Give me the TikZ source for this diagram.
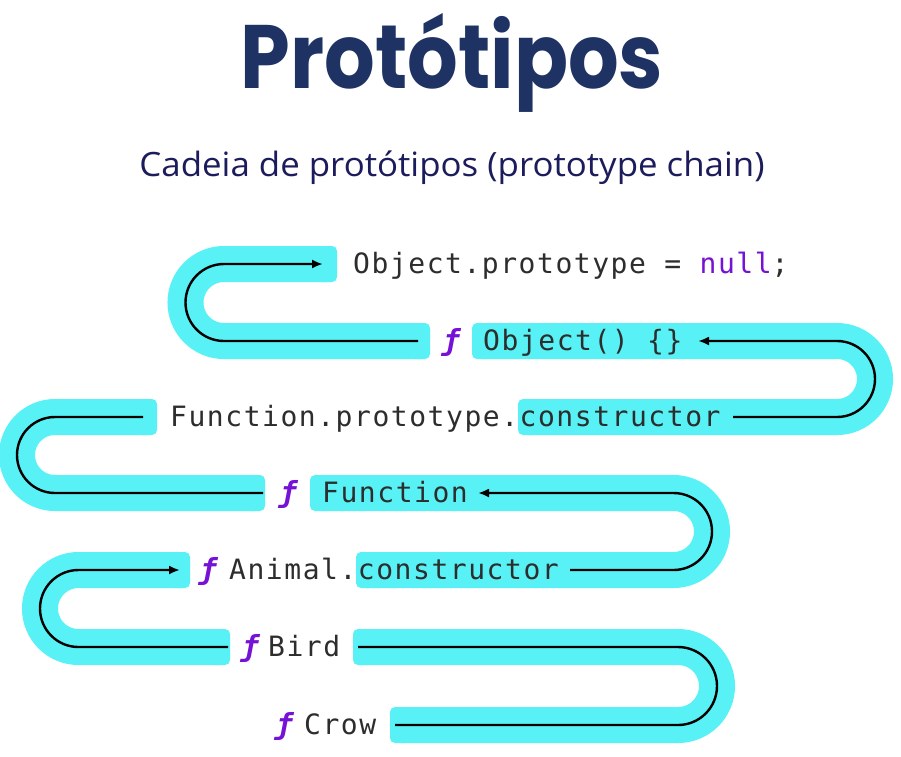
\documentclass[tikz,border=0pt]{standalone}
\usepackage{fontspec}
\usetikzlibrary{arrows.meta}

\newfontfamily\titlefont{Poppins}
\newfontfamily\subfont{Open Sans}
\newfontfamily\codefont{DejaVu Sans Mono}[LetterSpace=5.5]

\definecolor{bandcyan}{RGB}{88,242,246}
\definecolor{codegray}{RGB}{45,45,45}
\definecolor{kwpurple}{RGB}{118,18,214}
\definecolor{titlenavy}{RGB}{30,50,100}
\definecolor{subnavy}{RGB}{28,28,92}

\tikzset{
  bandline/.style={draw=bandcyan, line width=36pt, line cap=butt},
  bandcap/.style={fill=bandcyan, rounded corners=5pt},
  chain/.style={draw=black, line width=2.4pt, line cap=butt},
  arrowed/.style={-{Latex[length=11pt,width=9pt]}},
  code/.style={anchor=base west, inner sep=0pt, text=codegray,
    font=\codefont\fontsize{28}{28}\selectfont},
  fmark/.style={anchor=base, inner sep=0pt, text=kwpurple,
    font=\codefont\bfseries\itshape\fontsize{29}{29}\selectfont},
}

% cyan end piece with slightly rounded corners, #1..#2 in x, centred on row #3
\newcommand\capat[3]{\fill[bandcap] (#1,#3-18) rectangle (#2,#3+18);}

\begin{document}
\begin{tikzpicture}[x=1pt,y=-1pt]
\useasboundingbox (0,0) rectangle (901,756);
\fill[white] (0,0) rectangle (901,756);

% row centres
\def\ra{264}\def\rb{341}\def\rc{417}\def\rd{493}
\def\re{570}\def\rf{647}\def\rg{725}

% ---- headings
\node[anchor=base, inner sep=0pt, text=titlenavy, xscale=0.885,
  font=\titlefont\bfseries\fontsize{90}{90}\selectfont] (title) at (452,88) {Protótipos};
\node[anchor=base, inner sep=0pt, text=subnavy, xscale=1.04,
  font=\subfont\fontsize{33.5}{33.5}\selectfont] (subtitle) at (452,176)
  {Cadeia de protótipos (prototype chain)};

% ---- cyan bands (centre line = chain line)
% rows 1-2, turning on the left
\draw[bandline, rounded corners=38.5pt] (420,\rb) -- (185.5,\rb) -- (185.5,\ra) -- (327,\ra);
\capat{317}{337}{\ra}\capat{410}{430}{\rb}
% rows 2-3, turning on the right
\draw[bandline, rounded corners=38pt] (482,\rb) -- (875,\rb) -- (875,\rc) -- (528,\rc);
\capat{472}{492}{\rb}\capat{518}{538}{\rc}
% rows 3-4, turning on the left
\draw[bandline, rounded corners=38pt] (147,\rc) -- (17,\rc) -- (17,\rd) -- (255,\rd);
\capat{137}{157}{\rc}\capat{245}{265}{\rd}
% rows 4-5, turning on the right
\draw[bandline, rounded corners=38.5pt] (320,\rd) -- (712,\rd) -- (712,\re) -- (366,\re);
\capat{310}{330}{\rd}\capat{356}{376}{\re}
% rows 5-6, turning on the left
\draw[bandline, rounded corners=38.5pt] (180,\re) -- (40,\re) -- (40,\rf) -- (220,\rf);
\capat{170}{190}{\re}\capat{210}{230}{\rf}
% rows 6-7, turning on the right
\draw[bandline, rounded corners=39pt] (363,\rf) -- (717,\rf) -- (717,\rg) -- (400,\rg);
\capat{353}{373}{\rf}\capat{390}{410}{\rg}

% ---- code lines
\node[code] (objproto) at (353,\ra+9) {Object.prototype = \textcolor{kwpurple}{null};};
\node[fmark] (fobj) at (451,\rb+9) {ƒ};
\node[code] (objfn) at (483,\rb+9) {Object() \{\}};
\node[code] (fnproto) at (170,\rc+9) {Function.prototype.constructor};
\node[fmark] (ffunc) at (288,\rd+9) {ƒ};
\node[code] (funcfn) at (322,\rd+9) {Function};
\node[fmark] (fanimal) at (208,\re+9) {ƒ};
\node[code] (animal) at (229,\re+9) {Animal.constructor};
\node[fmark] (fbird) at (250,\rf+9) {ƒ};
\node[code] (bird) at (268,\rf+9) {Bird};
\node[fmark] (fcrow) at (284,\rg+9) {ƒ};
\node[code] (crow) at (304,\rg+9) {Crow};

% ---- chain end points
\coordinate (crowOut)   at (395,\rg);
\coordinate (birdIn)    at (358,\rf);
\coordinate (birdOut)   at (228,\rf);
\coordinate (animalIn)  at (180,\re);
\coordinate (animalOut) at (570,\re);
\coordinate (funcIn)    at (478,\rd);
\coordinate (funcOut)   at (263,\rd);
\coordinate (protoIn)   at (143,\rc);
\coordinate (protoOut)  at (733,\rc);
\coordinate (objIn)     at (698,\rb);
\coordinate (objOut)    at (418,\rb);
\coordinate (nullIn)    at (323,\ra);

% ---- prototype chain
\draw[chain, rounded corners=39pt] (crowOut) -- (717,\rg) -- (717,\rf) -- (birdIn);
\draw[chain, arrowed, rounded corners=38.5pt] (birdOut) -- (40,\rf) -- (40,\re) -- (animalIn);
\draw[chain, arrowed, rounded corners=38.5pt] (animalOut) -- (712,\re) -- (712,\rd) -- (funcIn);
\draw[chain, rounded corners=38pt] (funcOut) -- (17,\rd) -- (17,\rc) -- (protoIn);
\draw[chain, arrowed, rounded corners=38pt] (protoOut) -- (875,\rc) -- (875,\rb) -- (objIn);
\draw[chain, arrowed, rounded corners=38.5pt] (objOut) -- (185.5,\rb) -- (185.5,\ra) -- (nullIn);
\end{tikzpicture}
\end{document}
